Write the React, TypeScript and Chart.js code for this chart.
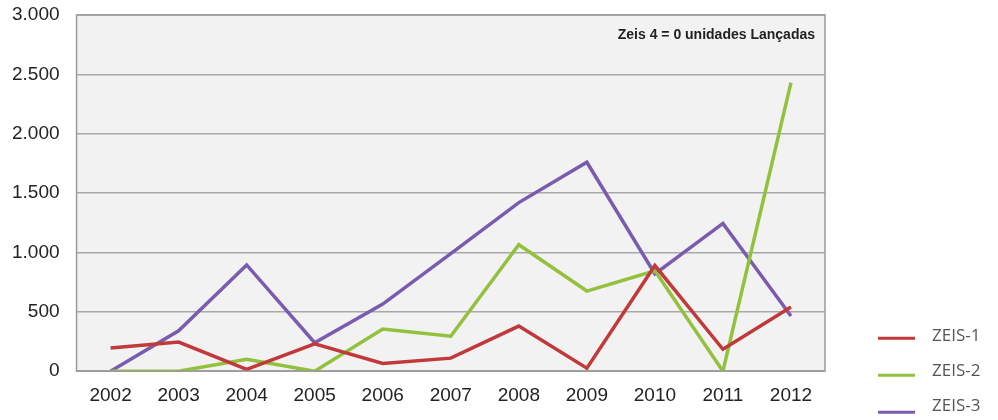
import React, { useEffect, useRef } from "react";
import { Chart, registerables } from "chart.js";

Chart.register(...registerables);

const years = ["2002", "2003", "2004", "2005", "2006", "2007", "2008", "2009", "2010", "2011", "2012"];
const zeis1 = [195, 245, 15, 230, 65, 110, 380, 25, 890, 185, 540];
const zeis2 = [0, 0, 100, 0, 355, 295, 1065, 675, 845, 0, 2430];
const zeis3 = [0, 340, 895, 240, 565, 990, 1420, 1760, 820, 1245, 465];
const seriesNames = ["ZEIS-1", "ZEIS-2", "ZEIS-3"];
const seriesColors = ["#c0393b", "#92c13e", "#7a5bb0"];
const note = "Zeis 4 = 0 unidades Lançadas";

const fmt = (v: number) => String(v).replace(/\B(?=(\d{3})+(?!\d))/g, ".");

const decor = {
  id: "decor",
  beforeDraw(chart: any) {
    const { ctx, chartArea: a } = chart;
    ctx.save();
    ctx.fillStyle = "#f2f2f2";
    ctx.fillRect(a.left, a.top, a.right - a.left, a.bottom - a.top);
    ctx.restore();
  },
  afterDatasetsDraw(chart: any) {
    const { ctx, chartArea: a } = chart;
    ctx.save();
    ctx.strokeStyle = "#9a9a9a";
    ctx.lineWidth = 1.5;
    ctx.strokeRect(a.left, a.top, a.right - a.left, a.bottom - a.top);
    ctx.fillStyle = "#222";
    ctx.font = "bold 14px 'Liberation Sans', Arial, sans-serif";
    ctx.textAlign = "right";
    ctx.textBaseline = "middle";
    ctx.fillText(note, a.right - 10, a.top + 20);
    // legend
    const ys = [a.bottom - 35, a.bottom, a.bottom + 35];
    chart.data.datasets.forEach((ds: any, i: number) => {
      const y = ys[i];
      ctx.strokeStyle = ds.borderColor;
      ctx.lineWidth = 3;
      ctx.beginPath();
      ctx.moveTo(a.right + 53, y + 2 + i * 2);
      ctx.lineTo(a.right + 90, y + 2 + i * 2);
      ctx.stroke();
      ctx.fillStyle = "#555";
      ctx.font = "17px 'Open Sans', sans-serif";
      ctx.textAlign = "left";
      ctx.textBaseline = "middle";
      ctx.fillText(ds.label, a.right + 107, y);
    });
    ctx.restore();
  },
};

export default function App() {
  const ref = useRef<HTMLCanvasElement>(null);
  useEffect(() => {
    document.body.style.margin = "0";
    const chart = new Chart(ref.current!, {
      type: "line",
      data: {
        labels: years,
        datasets: [zeis1, zeis2, zeis3].map((d, i) => ({
          label: seriesNames[i],
          data: d,
          borderColor: seriesColors[i],
          backgroundColor: seriesColors[i],
          borderWidth: 3.5,
          pointRadius: 0,
          pointHoverRadius: 0,
          tension: 0,
          fill: false,
        })),
      },
      options: {
        responsive: false,
        animation: false,
        layout: { padding: { left: -5, right: 173, top: 15, bottom: 0 } },
        plugins: { legend: { display: false }, tooltip: { enabled: false } },
        scales: {
          x: {
            offset: true,
            grid: { display: false, drawTicks: false },
            border: { display: false },
            ticks: {
              color: "#222",
              padding: 13,
              font: { family: "'Liberation Sans', Arial, sans-serif", size: 19 },
            },
          },
          y: {
            min: 0,
            max: 3000,
            grid: { color: "#a8a8a8", lineWidth: 1.5, drawTicks: false },
            border: { display: false },
            afterFit: (s: any) => {
              s.paddingTop = 0;
            },
            ticks: {
              stepSize: 500,
              color: "#222",
              padding: 17,
              font: { family: "'Liberation Sans', Arial, sans-serif", size: 19 },
              callback: (v: any) => fmt(Number(v)),
            },
          },
        },
      },
      plugins: [decor],
    });
    return () => chart.destroy();
  }, []);
  return (
    <div style={{ width: 998, height: 420, background: "#fff" }}>
      <canvas ref={ref} width={998} height={420} />
    </div>
  );
}
